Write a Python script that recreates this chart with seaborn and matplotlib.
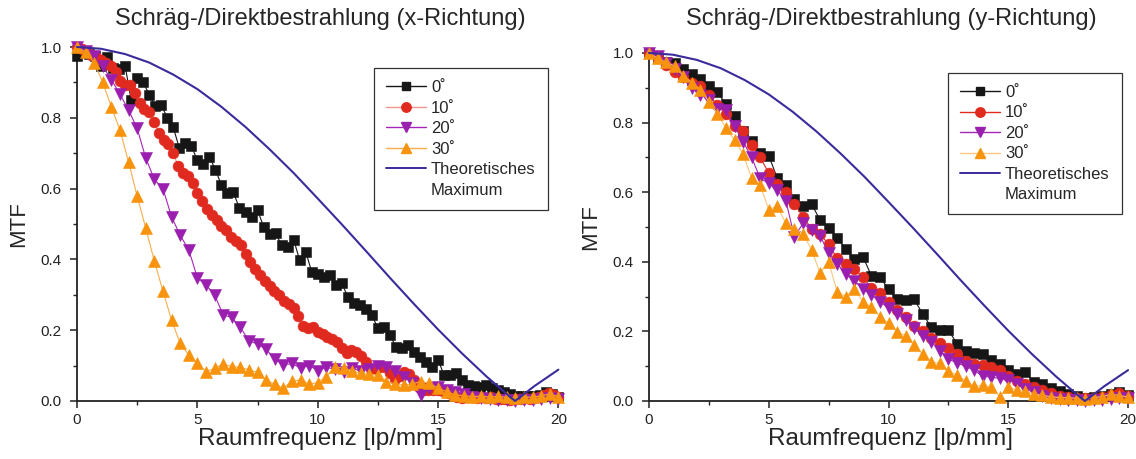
import numpy as np
import pandas as pd
import matplotlib
matplotlib.use("Agg")
import matplotlib.pyplot as plt
import seaborn as sns
from matplotlib.lines import Line2D
from matplotlib.ticker import MultipleLocator

# ---------------- data ----------------
TITLES = ["Schräg-/Direktbestrahlung (x-Richtung)", "Schräg-/Direktbestrahlung (y-Richtung)"]
XLABEL = "Raumfrequenz [lp/mm]"
YLABEL = "MTF"
LABELS = ["0˚", "10˚", "20˚", "30˚", "Theoretisches", "Maximum"]

# theoretical maximum
TH_X = [0, 1, 2, 3, 4, 5, 6, 7, 8, 9, 10, 11, 12, 13, 14, 15, 16, 17, 18, 18.2, 19, 20]
TH_Y = [1.0, 0.995, 0.980, 0.956, 0.922, 0.881, 0.831, 0.774, 0.711, 0.644, 0.572,
        0.499, 0.424, 0.348, 0.274, 0.202, 0.134, 0.070, 0.011, 0.0, 0.042, 0.0885]

# ---- x-direction ----
X_BLACK = [0.975, 0.985, 0.98, 0.975, 0.945, 0.972, 0.94, 0.937, 0.946, 0.85,
           0.912, 0.90, 0.865, 0.833, 0.836, 0.80, 0.773, 0.714, 0.728, 0.72,
           0.68, 0.67, 0.69, 0.653, 0.61, 0.587, 0.589, 0.544, 0.535, 0.52,
           0.54, 0.492, 0.472, 0.474, 0.44, 0.436, 0.456, 0.398, 0.422, 0.365,
           0.36, 0.351, 0.356, 0.328, 0.332, 0.295, 0.276, 0.271, 0.259, 0.243,
           0.205, 0.21, 0.186, 0.153, 0.149, 0.158, 0.139, 0.125, 0.111, 0.097,
           0.116, 0.073, 0.073, 0.078, 0.059, 0.045, 0.042, 0.04, 0.045, 0.038,
           0.031, 0.025, 0.02, 0.015, 0.014, 0.013, 0.015, 0.018, 0.025, 0.02,
           0.012]
X_RED = [1.0, 0.995, 0.985, 0.978, 0.972, 0.963, 0.955, 0.946, 0.93, 0.903,
         0.893, 0.892, 0.87, 0.842, 0.824, 0.815, 0.789, 0.757, 0.736, 0.726,
         0.70, 0.664, 0.645, 0.636, 0.616, 0.587, 0.565, 0.542, 0.524, 0.51,
         0.495, 0.482, 0.464, 0.452, 0.44, 0.415, 0.392, 0.372, 0.356, 0.34,
         0.325, 0.312, 0.298, 0.282, 0.273, 0.263, 0.24, 0.212, 0.205, 0.208,
         0.196, 0.19, 0.182, 0.174, 0.166, 0.15, 0.135, 0.144, 0.139, 0.127,
         0.11, 0.09, 0.09, 0.097, 0.096, 0.078, 0.062, 0.07, 0.083, 0.075,
         0.06, 0.04, 0.032, 0.03, 0.031, 0.032, 0.028, 0.023, 0.018, 0.012,
         0.008, 0.01, 0.012, 0.009, 0.01, 0.008, 0.01, 0.007, 0.006, 0.005,
         0.004, 0.005, 0.006, 0.008, 0.006, 0.009, 0.012, 0.018, 0.022, 0.016,
         0.012]
X_PURPLE = [1.0, 0.99, 0.975, 0.945, 0.908, 0.866, 0.822, 0.77, 0.686, 0.626,
            0.60, 0.52, 0.468, 0.427, 0.348, 0.328, 0.30, 0.243, 0.236, 0.208,
            0.17, 0.161, 0.146, 0.118, 0.102, 0.106, 0.093, 0.100, 0.086, 0.095,
            0.090, 0.083, 0.092, 0.085, 0.090, 0.100, 0.097, 0.085, 0.069, 0.05,
            0.017, 0.036, 0.04, 0.03, 0.025, 0.02, 0.012, 0.008, 0.006, 0.004,
            0.002, 0.0, 0.003, 0.004, 0.006, 0.008, 0.006]
X_ORANGE = [1.0, 0.985, 0.955, 0.90, 0.83, 0.765, 0.675, 0.578, 0.488, 0.395,
            0.31, 0.228, 0.163, 0.13, 0.106, 0.083, 0.092, 0.105, 0.097, 0.095,
            0.088, 0.081, 0.059, 0.047, 0.036, 0.056, 0.059, 0.048, 0.052, 0.069,
            0.097, 0.092, 0.086, 0.078, 0.076, 0.073, 0.055, 0.048, 0.045, 0.048,
            0.055, 0.05, 0.036, 0.026, 0.017, 0.015, 0.012, 0.014, 0.011, 0.013,
            0.010, 0.008, 0.012, 0.010, 0.015, 0.02, 0.012]

# ---- y-direction ----
Y_BLACK = [1.0, 0.985, 0.975, 0.972, 0.955, 0.94, 0.925, 0.905, 0.888, 0.852,
           0.82, 0.775, 0.748, 0.714, 0.705, 0.64, 0.62, 0.58, 0.56, 0.566,
           0.52, 0.498, 0.468, 0.437, 0.408, 0.415, 0.36, 0.355, 0.322, 0.292,
           0.29, 0.292, 0.25, 0.212, 0.204, 0.204, 0.165, 0.145, 0.137, 0.135,
           0.118, 0.105, 0.09, 0.078, 0.082, 0.055, 0.048, 0.038, 0.03, 0.02,
           0.015, 0.01, 0.012, 0.015, 0.02, 0.027, 0.016]
Y_RED = [1.0, 0.985, 0.965, 0.945, 0.93, 0.915, 0.905, 0.88, 0.85, 0.825,
         0.79, 0.775, 0.735, 0.70, 0.655, 0.623, 0.60, 0.565, 0.53, 0.495,
         0.48, 0.45, 0.41, 0.395, 0.38, 0.356, 0.325, 0.31, 0.285, 0.26,
         0.242, 0.215, 0.2, 0.18, 0.168, 0.153, 0.135, 0.115, 0.107, 0.103,
         0.098, 0.09, 0.072, 0.058, 0.05, 0.04, 0.032, 0.022, 0.015, 0.012,
         0.01, 0.008, 0.01, 0.012, 0.016, 0.022, 0.015]
Y_PURPLE = [1.0, 0.99, 0.97, 0.955, 0.93, 0.90, 0.88, 0.865, 0.84, 0.835,
            0.79, 0.745, 0.70, 0.64, 0.625, 0.605, 0.575, 0.472, 0.51, 0.49,
            0.475, 0.425, 0.395, 0.365, 0.345, 0.322, 0.305, 0.285, 0.268, 0.25,
            0.232, 0.21, 0.188, 0.17, 0.145, 0.12, 0.11, 0.1, 0.088, 0.072,
            0.068, 0.065, 0.06, 0.05, 0.035, 0.025, 0.015, 0.008, 0.005, 0.003,
            0.002, 0.0, 0.002, 0.004, 0.006, 0.01, 0.008]
Y_ORANGE = [1.0, 0.985, 0.973, 0.962, 0.935, 0.915, 0.895, 0.86, 0.825, 0.785,
            0.75, 0.71, 0.64, 0.62, 0.55, 0.56, 0.51, 0.495, 0.48, 0.435,
            0.367, 0.40, 0.314, 0.30, 0.322, 0.285, 0.27, 0.242, 0.225, 0.198,
            0.188, 0.16, 0.135, 0.112, 0.108, 0.085, 0.075, 0.058, 0.042, 0.045,
            0.04, 0.012, 0.04, 0.032, 0.028, 0.02, 0.016, 0.012, 0.01, 0.009,
            0.008, 0.007, 0.01, 0.012, 0.02, 0.015, 0.012]

# ---------------- style ----------------
sns.set_style("ticks")
plt.rcParams["font.family"] = ["Liberation Sans", "DejaVu Sans"]

MK_COLORS = ["#161616", "#e12a1f", "#9a1fae", "#f7930c"]
MARKERS = ["s", "o", "v", "^"]
MSIZES = [7.0, 7.8, 8.6, 8.6]
TH_COLOR = "#3a2b9c"
LINE_COLORS = {
    0: ["#161616", "#f2958c", "#a526b6", "#f9ad4a"],
    1: ["#161616", "#e12a1f", "#a526b6", "#fcc77e"],
}

fig = plt.figure(figsize=(11.36, 4.59), dpi=100)
axL = fig.add_axes([0.0678, 0.1264, 0.428, 0.7712])
axR = fig.add_axes([0.5713, 0.1264, 0.4259, 0.7582])

panels = [
    (axL, [X_BLACK, X_RED, X_PURPLE, X_ORANGE], (0.611, 0.94), 15.5),
    (axR, [Y_BLACK, Y_RED, Y_PURPLE, Y_ORANGE], (0.618, 0.9425), 20.0),
]

for p, (ax, series, leg_anchor, tpad) in enumerate(panels):
    for k, vals in enumerate(series):
        xs = np.linspace(0, 20, len(vals))
        df = pd.DataFrame({"f": xs, "mtf": vals})
        sns.lineplot(data=df, x="f", y="mtf", ax=ax, estimator=None, sort=False,
                     color=LINE_COLORS[p][k], linewidth=0.8,
                     marker=MARKERS[k], markersize=MSIZES[k],
                     markerfacecolor=MK_COLORS[k], markeredgecolor=MK_COLORS[k],
                     markeredgewidth=0.4, clip_on=False, zorder=3 + k)
    th = pd.DataFrame({"f": TH_X, "mtf": TH_Y})
    sns.lineplot(data=th, x="f", y="mtf", ax=ax, estimator=None, sort=False,
                 color=TH_COLOR, linewidth=1.5, zorder=10, clip_on=False)

    ax.set_xlim(0, 20.2)
    ax.set_ylim(0, 1.0)
    ax.xaxis.set_major_locator(MultipleLocator(5))
    ax.xaxis.set_minor_locator(MultipleLocator(2.5))
    ax.yaxis.set_major_locator(MultipleLocator(0.2))
    ax.yaxis.set_minor_locator(MultipleLocator(0.1))
    ax.yaxis.set_major_formatter(matplotlib.ticker.FormatStrFormatter("%.1f"))
    ax.tick_params(which="major", direction="out", length=5, width=1.1,
                   labelsize=11, colors="#222222")
    ax.tick_params(axis="y", which="major", pad=6)
    ax.tick_params(which="minor", direction="out", length=3, width=1.0, colors="#222222")
    for s in ["top", "right"]:
        ax.spines[s].set_visible(False)
    for s in ["left", "bottom"]:
        ax.spines[s].set_linewidth(1.3)
        ax.spines[s].set_color("#222222")
    ax.set_xlabel(XLABEL, fontsize=17.5, labelpad=1)
    ax.set_ylabel(YLABEL, fontsize=16, labelpad=8)
    ax.set_title(TITLES[p], fontsize=17, pad=tpad)

    handles = []
    for k in range(4):
        handles.append(Line2D([], [], color=LINE_COLORS[p][k], linewidth=1.0,
                              marker=MARKERS[k], markersize=MSIZES[k] - 1.0,
                              markerfacecolor=MK_COLORS[k], markeredgecolor=MK_COLORS[k]))
    handles.append(Line2D([], [], color=TH_COLOR, linewidth=1.4))
    handles.append(Line2D([], [], color="none"))
    leg = ax.legend(handles, LABELS, loc="upper left", bbox_to_anchor=leg_anchor,
                    borderaxespad=0, fontsize=12, frameon=True, fancybox=False,
                    handlelength=2.4, handletextpad=0.3, labelspacing=0.33,
                    borderpad=0.72)
    leg.get_frame().set_edgecolor("#333333")
    leg.get_frame().set_linewidth(0.9)
    leg.get_frame().set_alpha(1)

fig.savefig("out.png", dpi=100)
